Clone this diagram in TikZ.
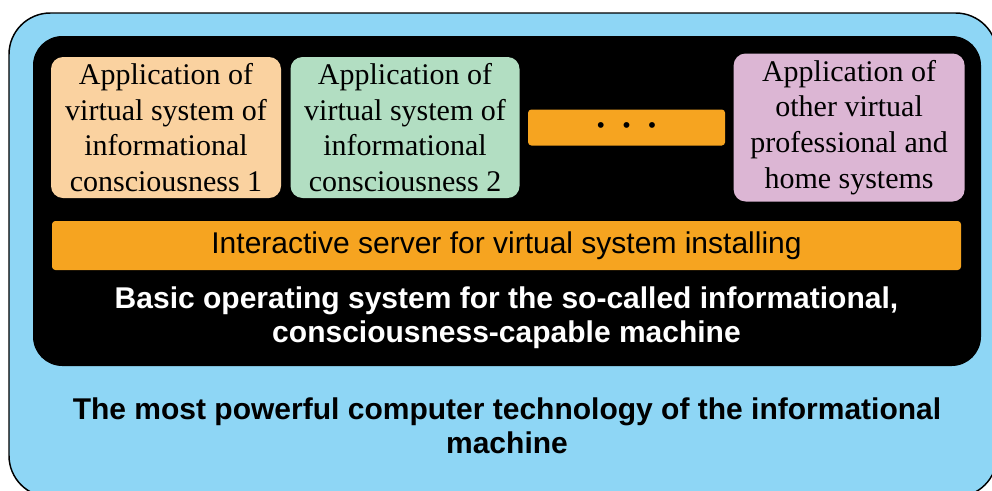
\documentclass[tikz,border=0pt]{standalone}
\usepackage{fontspec}
\setmainfont{Liberation Serif}
\setsansfont{Liberation Sans}
\usepackage{tikz}
\usetikzlibrary{calc, positioning}
\definecolor{skyblue}{RGB}{142,214,245}
\definecolor{peach}{RGB}{250,210,160}
\definecolor{mint}{RGB}{178,222,194}
\definecolor{lilac}{RGB}{220,182,212}
\definecolor{amber}{RGB}{246,164,32}
\newcommand{\bigtext}{\fontsize{22.5}{26.8}\selectfont}
\tikzstyle{outerbox}  = [rectangle, rounded corners=31pt, draw=black, line width=1.1pt, fill=skyblue]
\tikzstyle{osbox}     = [rectangle, rounded corners=22pt, fill=black]
\tikzstyle{app}       = [rectangle, rounded corners=9pt, text centered, align=center, inner sep=0pt, font=\bigtext, text=black]
\tikzstyle{bar}       = [rectangle, rounded corners=2.5pt, fill=amber, inner sep=0pt, font=\sffamily\bigtext]
\tikzstyle{title}     = [align=center, font=\sffamily\bfseries\fontsize{22.5}{25.5}\selectfont]

\begin{document}
\begin{tikzpicture}[x=0.75pt, y=-0.75pt]
    \useasboundingbox (0,0) rectangle (992,490);
    \clip (0,0) rectangle (992,490);

    \draw [outerbox] (9,13) rectangle (997,497);
    \node (os) [osbox, minimum width=711pt, minimum height=247.5pt] at (507,201) {};

    \node (app1) [app, fill=peach, minimum width=172.5pt, minimum height=105.75pt] at (166,127.5)
        {Application of\\virtual system of\\informational\\consciousness 1};
    \node (app2) [app, fill=mint, minimum width=171.75pt, minimum height=105.75pt, right=6.75pt of app1]
        {Application of\\virtual system of\\informational\\consciousness 2};
    \node (dots) [bar, minimum width=147.75pt, minimum height=27pt, right=6pt of app2]
        {\raisebox{-2.5pt}{\fontsize{16}{16}\selectfont\textbullet\hspace{0.85em}\textbullet\hspace{0.85em}\textbullet}};
    \node (other) [app, fill=lilac, minimum width=173.25pt, minimum height=111pt, right=6pt of dots]
        {Application of\\other virtual\\professional and\\home systems};

    \node (server) [bar, minimum width=681.75pt, minimum height=36.75pt] at (506.5,245.5)
        {Interactive server for virtual system installing};
    \node (basic) [title, text=white, below=8.5pt of server]
        {Basic operating system for the so-called informational,\\consciousness-capable machine};

    \node (tech) [title, text=black] at (507,426)
        {The most powerful computer technology of the informational\\machine};
\end{tikzpicture}
\end{document}
